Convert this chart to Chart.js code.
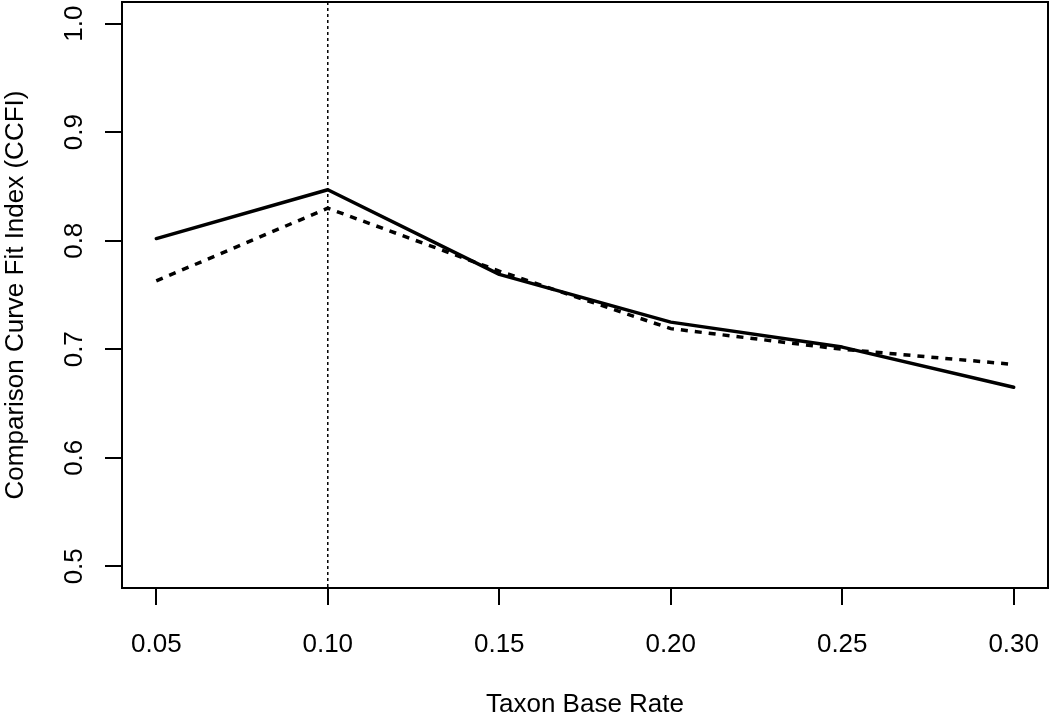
<!DOCTYPE html>
<html>
<head>
<meta charset="utf-8">
<script src="https://cdn.jsdelivr.net/npm/chart.js@4/dist/chart.umd.min.js"></script>
<style>
  html, body { margin: 0; padding: 0; background: #fff; }
  #wrap { width: 1050px; height: 720px; }
</style>
</head>
<body>
<div id="wrap"><canvas id="ccfiChart" width="1050" height="720"></canvas></div>
<script>
// values
const baseRates = [0.05, 0.10, 0.15, 0.20, 0.25, 0.30];
const solidCcfi = [0.802, 0.847, 0.769, 0.725, 0.702, 0.665];
const dottedCcfi = [0.763, 0.830, 0.772, 0.719, 0.700, 0.686];
const yTicks = [0.5, 0.6, 0.7, 0.8, 0.9, 1.0];
const markerRate = 0.10;

const toPoints = (ys) => baseRates.map((x, i) => ({ x, y: ys[i] }));

// box around the plot region + vertical dotted marker
const framePlugin = {
  id: 'frame',
  afterDatasetsDraw(chart) {
    const { ctx, chartArea: a, scales } = chart;
    const mx = scales.x.getPixelForValue(markerRate);
    ctx.save();
    ctx.strokeStyle = '#000';
    ctx.lineWidth = 1.5;
    ctx.setLineDash([3, 3]);
    ctx.beginPath();
    ctx.moveTo(mx, a.top);
    ctx.lineTo(mx, a.bottom);
    ctx.stroke();
    ctx.setLineDash([]);
    ctx.lineWidth = 2;
    ctx.strokeRect(a.left, a.top, a.right - a.left, a.bottom - a.top);
    ctx.restore();
  }
};

const font = { family: '"Liberation Sans", Arial, Helvetica, sans-serif', size: 26 };

new Chart(document.querySelector('#ccfiChart'), {
  type: 'line',
  data: {
    datasets: [{
      data: toPoints(solidCcfi),
      borderColor: '#000',
      borderWidth: 3.5,
      borderCapStyle: 'round',
      borderJoinStyle: 'round',
      pointRadius: 0,
      tension: 0
    }, {
      data: toPoints(dottedCcfi),
      borderColor: '#000',
      borderWidth: 3.5,
      borderDash: [7, 7],
      borderCapStyle: 'butt',
      pointRadius: 0,
      tension: 0
    }]
  },
  options: {
    responsive: false,
    animation: false,
    layout: { padding: { top: 2, right: 2, left: 0, bottom: 0 } },
    plugins: { legend: { display: false }, tooltip: { enabled: false } },
    scales: {
      x: {
        type: 'linear',
        min: 0.04,
        max: 0.31,
        afterBuildTicks: (s) => { s.ticks = baseRates.map(v => ({ value: v })); },
        afterFit: (s) => { s.height = 132; s.paddingLeft = 0; s.paddingRight = 0; },
        border: { display: true, color: '#000', width: 2 },
        grid: { drawOnChartArea: false, drawTicks: true, tickLength: 17, color: '#000', lineWidth: 2 },
        ticks: {
          color: '#000', font, padding: 24, maxRotation: 0, autoSkip: false,
          callback: (v) => v.toFixed(2)
        },
        title: { display: true, text: 'Taxon Base Rate', color: '#000', font, padding: 0 }
      },
      y: {
        min: 0.48,
        max: 1.02,
        afterBuildTicks: (s) => { s.ticks = yTicks.map(v => ({ value: v })); },
        afterFit: (s) => { s.width = 122; s.paddingTop = 0; s.paddingBottom = 0; },
        border: { display: true, color: '#000', width: 2 },
        grid: { drawOnChartArea: false, drawTicks: true, tickLength: 17, color: '#000', lineWidth: 2 },
        ticks: {
          color: '#000', font, padding: 12, minRotation: 90, maxRotation: 90,
          crossAlign: 'center', autoSkip: false,
          callback: (v) => v.toFixed(1)
        },
        title: { display: true, text: 'Comparison Curve Fit Index (CCFI)', color: '#000', font, padding: 0 }
      }
    }
  },
  plugins: [framePlugin]
});
</script>
</body>
</html>
